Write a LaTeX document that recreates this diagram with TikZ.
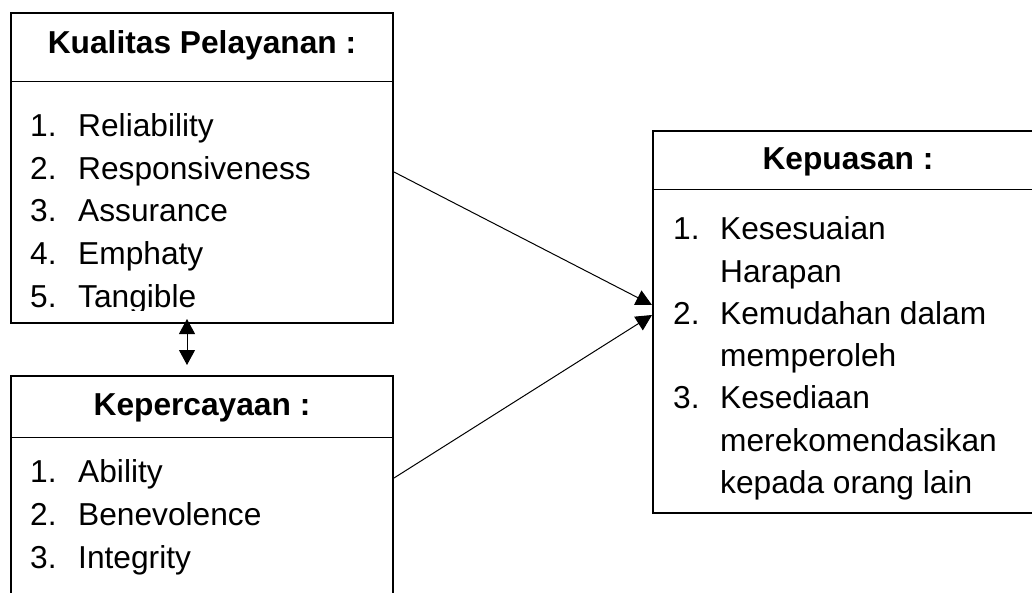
\documentclass[tikz,border=0pt]{standalone}
\usepackage{fontspec}
\setmainfont{Liberation Sans}
\usetikzlibrary{arrows.meta,calc}
\begin{document}
\begin{tikzpicture}[x=1pt,y=-1pt,
  box/.style={draw, line width=2pt, inner sep=0pt, anchor=north west},
  title/.style={font=\fontsize{31.7}{38}\selectfont\bfseries, anchor=base, inner sep=0pt},
  item/.style={font=\fontsize{31.7}{38}\selectfont, anchor=base west, inner sep=0pt},
  divider/.style={line width=1pt},
  conn/.style={line width=1pt, -{Triangle[length=16pt,width=16pt]}},
  dconn/.style={line width=1pt, {Triangle[length=15pt,width=16pt]}-{Triangle[length=15pt,width=16pt]}},
]
\useasboundingbox (0,0) rectangle (1032,593);
\clip (0,0) rectangle (1032,593);
\fill[white] (0,0) rectangle (1032,593);

% boxes
\node[box, minimum width=382pt, minimum height=310pt] (k1) at (10,12) {};
\node[box, minimum width=382pt, minimum height=240pt] (k2) at (10,375) {};
\node[box, minimum width=390pt, minimum height=382pt] (k3) at (652,130) {};

% dividers
\draw[divider] ($(k1.north west)+(0,70)$) -- ($(k1.north east)+(-2,70)$);
\draw[divider] ($(k2.north west)+(0,62)$) -- ($(k2.north east)+(-2,62)$);
\draw[divider] ($(k3.north west)+(0,60)$) -- ($(k3.north east)+(0,60)$);

% titles
\node[title] (t1) at ($(k1.north)+(0,41.3)$) {Kualitas Pelayanan :};
\node[title] (t2) at ($(k2.north)+(0,40)$) {Kepercayaan :};
\node[title] (t3) at ($(k3.north)+(0,40)$) {Kepuasan :};

% box 1 items
\begin{scope}
\clip (10,12) rectangle (392,310);
\foreach \t [count=\i] in {Reliability, Responsiveness, Assurance, Emphaty, Tangible} {
  \node[item] (an\i) at (30,{137+42.5*(\i-1)}) {\i.};
  \node[item] (at\i) at (78,{137+42.5*(\i-1)}) {\t};
}
\end{scope}

% box 2 items
\foreach \t [count=\i] in {Ability, Benevolence, Integrity} {
  \node[item] (bn\i) at (30,{482+43*(\i-1)}) {\i.};
  \node[item] (bt\i) at (78,{482+43*(\i-1)}) {\t};
}

% box 3 items
\node[item] (cn1) at (673,240) {1.};
\node[item] (ct1) at (720,240) {Kesesuaian};
\node[item] (ct2) at (720,282.2) {Harapan};
\node[item] (cn2) at (673,324.4) {2.};
\node[item] (ct3) at (720,324.4) {Kemudahan dalam};
\node[item] (ct4) at (720,366.6) {memperoleh};
\node[item] (cn3) at (673,408.8) {3.};
\node[item] (ct5) at (720,408.8) {Kesediaan};
\node[item] (ct6) at (720,451) {merekomendasikan};
\node[item] (ct7) at (720,493.2) {kepada orang lain};

% connectors
\draw[conn] ($(k1.north east)+(0,160)$) -- ($(k3.north west)+(0,175)$);
\draw[conn] ($(k2.north east)+(0,103)$) -- ($(k3.north west)+(0,185)$);
\draw[dconn] ($(k1.south west)+(177,-5)$) -- ($(k2.north west)+(177,-10)$);
\end{tikzpicture}
\end{document}
